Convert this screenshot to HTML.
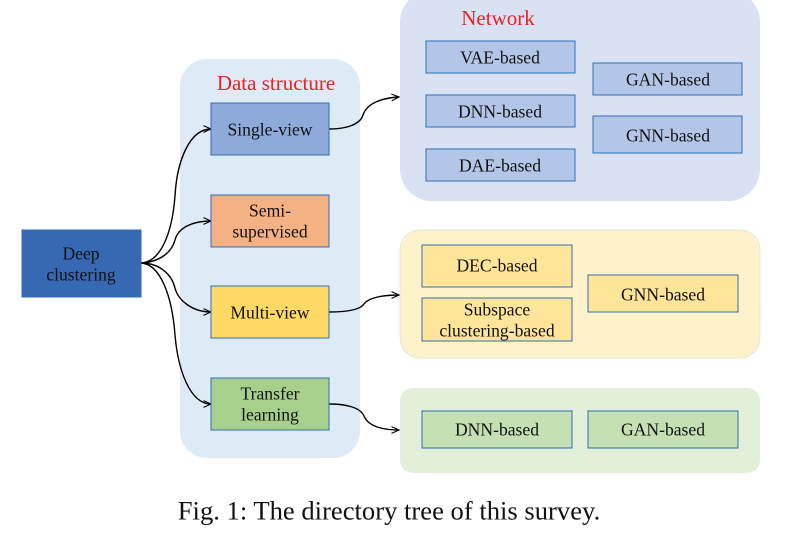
<!DOCTYPE html>
<html>
<head>
<meta charset="utf-8">
<style>
html,body{margin:0;padding:0;background:#fff;}
body{width:799px;height:534px;overflow:hidden;}
svg{display:block;}
text{font-family:"Liberation Serif",serif;fill:#111;text-anchor:middle;}
</style>
</head>
<body>
<svg width="799" height="534" viewBox="0 0 799 534" xmlns="http://www.w3.org/2000/svg">
<defs>
<marker id="a" markerWidth="10" markerHeight="8" refX="8" refY="4" orient="auto" markerUnits="userSpaceOnUse">
<path d="M0.5 0.6 L8 4 L0.5 7.4" fill="none" stroke="#000" stroke-width="1.1"/>
</marker>
</defs>
<rect x="180" y="59" width="180" height="399" rx="27" fill="#deebf6"/>
<rect x="400" y="-10" width="360" height="211" rx="32" fill="#d9e2f3"/>
<rect x="400" y="230" width="360" height="128" rx="20" fill="#fdf2c9" stroke="#e4e6e2" stroke-width="1"/>
<rect x="400" y="388" width="360" height="85" rx="13" fill="#e2efd9"/>

<g fill="none" stroke="#000" stroke-width="1.4">
<path d="M141 263 C160 262 172 235 175 196 C177 160 190 129 211 129" marker-end="url(#a)"/>
<path d="M141 263 C160 262 172 252 175 240 C178 228 192 221 211 221" marker-end="url(#a)"/>
<path d="M141 263 C160 263 172 275 175 288 C178 300 192 312 211 312" marker-end="url(#a)"/>
<path d="M141 263 C160 264 172 295 175 335 C178 370 190 404 211 404" marker-end="url(#a)"/>
<path d="M329 129 C345 129 360 125 363 115 C367 103 382 98 399 97" marker-end="url(#a)"/>
<path d="M329 312 C345 312 360 310 364 304 C368 298 382 295 399 295" marker-end="url(#a)"/>
<path d="M329 404 C345 404 360 407 364 416 C368 426 382 430 399 430" marker-end="url(#a)"/>
</g>

<g stroke="#2f6eba" stroke-width="1">
<rect x="22" y="230" width="119" height="67" fill="#3768b3"/>
<rect x="211" y="103" width="118" height="52" fill="#8eaadb"/>
<rect x="211" y="195" width="118" height="52" fill="#f4b183"/>
<rect x="211" y="286" width="118" height="52" fill="#ffd966"/>
<rect x="211" y="378" width="118" height="52" fill="#a8d08d"/>
<rect x="426" y="41" width="149" height="32" fill="#b4c6e7"/>
<rect x="426" y="95" width="149" height="32" fill="#b4c6e7"/>
<rect x="426" y="149" width="149" height="32" fill="#b4c6e7"/>
<rect x="593" y="63" width="149" height="32" fill="#b4c6e7"/>
<rect x="593" y="116" width="149" height="37" fill="#b4c6e7"/>
<rect x="422" y="245" width="150" height="42" fill="#fee599"/>
<rect x="422" y="298" width="150" height="43" fill="#fee599"/>
<rect x="588" y="275" width="150" height="37" fill="#fee599"/>
<rect x="422" y="411" width="150" height="37" fill="#c5e0b3"/>
<rect x="588" y="411" width="150" height="37" fill="#c5e0b3"/>
</g>

<g font-size="17.6">
<text x="81" y="259.5">Deep</text>
<text x="81" y="280.5">clustering</text>
<text x="270" y="135.5">Single-view</text>
<text x="270" y="216.5">Semi-</text>
<text x="270" y="237.5">supervised</text>
<text x="270" y="318.5">Multi-view</text>
<text x="270" y="399.5">Transfer</text>
<text x="270" y="420.5">learning</text>
<text x="500" y="63.5">VAE-based</text>
<text x="500" y="117.5">DNN-based</text>
<text x="500" y="171.5">DAE-based</text>
<text x="668" y="85.5">GAN-based</text>
<text x="668" y="141.5">GNN-based</text>
<text x="497" y="271.5">DEC-based</text>
<text x="497" y="315.5">Subspace</text>
<text x="497" y="336.5">clustering-based</text>
<text x="663" y="300.5">GNN-based</text>
<text x="497" y="435.5">DNN-based</text>
<text x="663" y="435.5">GAN-based</text>
</g>
<text x="276" y="90" font-size="21" style="fill:#ed2024">Data structure</text>
<text x="498" y="25" font-size="21" style="fill:#ed2024">Network</text>
<text x="389" y="519.5" font-size="26.6">Fig. 1: The directory tree of this survey.</text>
</svg>
</body>
</html>
